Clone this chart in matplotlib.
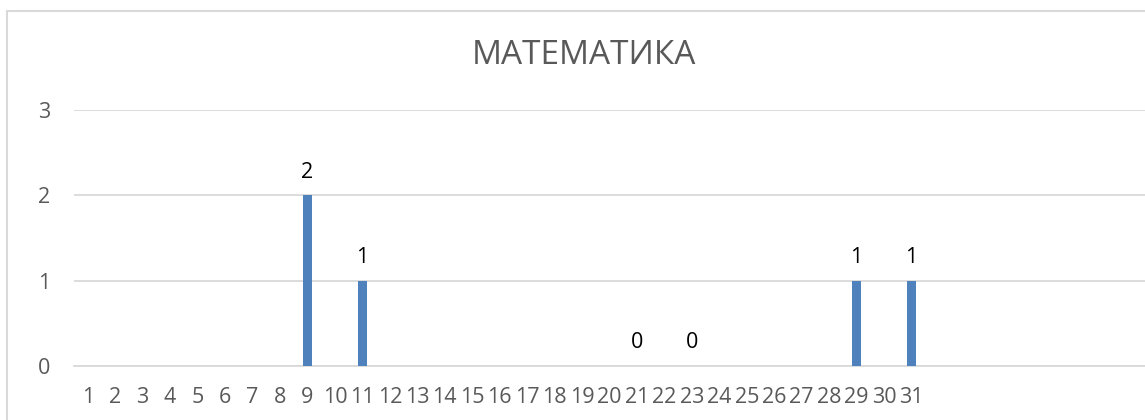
import numpy as np
import matplotlib.pyplot as plt
from matplotlib.patches import Rectangle

# days of the month on the category axis, blank where nothing was recorded
days = list(range(1, 32))
scores = [np.nan] * 31
for d, v in [(9, 2), (11, 1), (21, 0), (23, 0), (29, 1), (31, 1)]:
    scores[d - 1] = v
n_slots = 39          # the category axis keeps going past day 31 (cut off on the right)
title = 'МАТЕМАТИКА'

plt.rcParams['font.family'] = ['Open Sans', 'DejaVu Sans']
grid_c = '#d9d9d9'
text_c = '#595959'

fig = plt.figure(figsize=(11.45, 4.2), dpi=100)
# outer chart border, runs off the right and bottom of the picture
fig.patches.append(Rectangle((7 / 1145, -0.1), 1.2, 1 - 11 / 420 + 0.1,
                             transform=fig.transFigure, fill=False,
                             edgecolor=grid_c, linewidth=1.5))

ax = fig.add_axes([74 / 1145, 54 / 420, 1 - 74 / 1145, 256 / 420])
x = np.arange(len(days))
y = np.array(scores, dtype=float)
ok = ~np.isnan(y)
ax.bar(x[ok], y[ok], width=0.31, color='#4f81bd', zorder=3)
for xi, yi in zip(x[ok], y[ok]):
    ax.annotate(f'{int(yi)}', (xi, yi), xytext=(0, 9), textcoords='offset points',
                ha='center', va='bottom', fontsize=15.5, color='black')

ax.set_xlim(-0.5, n_slots - 0.5)
ax.set_ylim(0, 3)
ax.set_yticks([0, 1, 2, 3])
ax.set_xticks(x)
ax.set_xticklabels([str(d) for d in days])
ax.grid(axis='y', color=grid_c, linewidth=1.3, zorder=0)
ax.set_axisbelow(True)
for s in ['top', 'right', 'left']:
    ax.spines[s].set_visible(False)
ax.spines['bottom'].set_color(grid_c)
ax.spines['bottom'].set_linewidth(1.3)
ax.tick_params(length=0, labelsize=15.5, labelcolor=text_c)
ax.tick_params(axis='y', pad=17)
ax.tick_params(axis='x', pad=15)

fig.text(584 / 1145, 1 - 55 / 420, title, ha='center', va='center',
         fontsize=24, color=text_c)

fig.savefig('out.png', dpi=100)
